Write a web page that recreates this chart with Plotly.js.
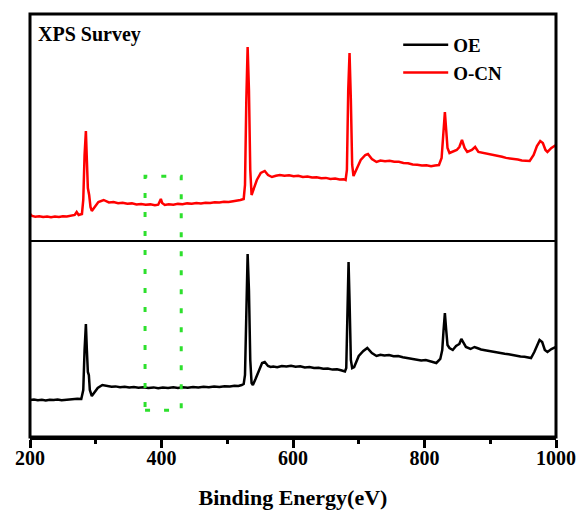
<!DOCTYPE html>
<html>
<head>
<meta charset="utf-8">
<script src="https://cdn.plot.ly/plotly-3.0.1.min.js"></script>
<style>
  html, body { margin: 0; padding: 0; background: #fff; }
  #chart { width: 584px; height: 522px; }
</style>
</head>
<body>
<div id="chart"></div>
<script>
// XPS survey spectra as [binding energy (eV), intensity (a.u.)] pairs
const oeSpectrum = [
  [200,37],[206,37.5],[212,36.8],[218,37.3],[224,36.6],[230,37.2],[236,36.9],[242,37.4],[248,36.7],[254,37.2],
  [260,37.5],[266,37.8],[272,38.2],[278,38],[281,47],[283,87],[285,113],[286.5,87],[288,65],[289.5,62],
  [291,47],[294,41],[298,45],[303,49],[310,52],[314,51.5],[318,51],[324,50.2],[330,50.6],[337,49.7],
  [344,50.3],[351,49.4],[358,50],[365,49.2],[372,49.8],[380,49],[388,49.6],[395,48.8],[402,49.4],[410,49],
  [418,49.7],[425,49.1],[432,49.8],[440,49.3],[448,50.1],[456,49.6],[464,50.3],[472,49.8],[480,50.5],[488,50],
  [496,50.7],[504,50.4],[511,51.2],[517,51],[522,52],[525,53],[527,62],[529,137],[531,183],[533,147],
  [535,77],[537,54],[539,52],[543,58],[548,67],[553,74],[557,75],[562,71],[566,70],[570,70.5],
  [576,69.8],[583,71],[590,70.4],[597,71.2],[604,70.3],[611,70.7],[618,69.6],[625,69.9],[632,68.9],[639,69.3],
  [646,68.2],[653,68.5],[660,67.4],[667,67.8],[673,66.8],[679,65.5],[681,69],[683,137],[684.5,175],[686,137],
  [688,77],[690,69],[693,70],[700,81],[707,86],[713,89],[720,84],[727,81],[733,82.3],[739,81.6],
  [746,82],[753,80.7],[760,80.9],[767,79.8],[774,78.9],[781,77.9],[788,77.6],[795,76.6],[802,77],[809,75.7],
  [814,75.3],[818,74],[824,78],[827,87],[829,107],[831,124],[833,107],[835,92],[838,89],[843,87],
  [848,91],[853,93],[856,98],[859,94],[863,90],[870,88],[876,90],[880,89],[886,87.5],[892,86.8],
  [898,86],[904,85.6],[910,84.5],[916,84.3],[922,83.2],[928,82.8],[934,81.9],[940,81.4],[946,80.6],[952,80.2],
  [958,79.4],[962,79],[967,85],[971,92],[975,97],[979,95],[983,87],[987,85],[993,88],[1000,90]
];

const ocnSpectrum = [
  [200,27],[203,25],[208,24.3],[214,24.8],[220,23.9],[226,24.5],[232,23.8],[238,24.4],[244,24],[250,24.7],
  [256,24.5],[262,25.3],[268,26],[271,29],[274,26],[279,27],[281,41],[283,86],[285,110],[286.5,81],
  [288,53],[290,46],[292,34],[294,30],[298,34],[304,39],[312,41],[316,40],[320,38.5],[327,38.9],
  [334,37.8],[341,38.3],[348,37.2],[355,37.6],[362,36.5],[369,37],[376,36.2],[383,36.6],[390,35.8],[395,36.3],
  [397,39],[399,42],[401,38],[405,36],[411,36.8],[418,36.3],[425,37.1],[432,36.8],[439,37.6],[446,37.2],
  [453,38],[460,37.5],[467,38.3],[474,38],[481,38.7],[488,38.4],[495,39.2],[502,38.9],[509,39.8],[515,40.2],
  [520,41],[525,42],[527,56],[529,141],[531,194],[533,151],[535,71],[537,46],[540,51],[545,61],
  [551,68],[557,70],[562,66],[568,64],[574,65.2],[580,66],[587,65.3],[594,65.8],[601,64.8],[608,65.2],
  [615,64.1],[622,64.5],[629,63.4],[636,63.8],[643,62.8],[650,63.1],[657,62.1],[664,62.4],[671,61.4],[677,61.8],
  [680,61],[682,71],[684,151],[686,188],[688,141],[690,76],[692,65],[696,71],[703,81],[710,86],
  [714,87],[720,82],[727,79],[733,80.4],[740,79.8],[747,80.2],[754,79.2],[761,79.3],[768,78.1],[775,77.8],
  [782,76.6],[789,76.2],[796,75.4],[803,75.7],[810,74.8],[816,75.5],[822,76],[826,83],[829,111],[831,129],
  [833,111],[835,93],[838,88],[844,90],[849,91],[853,94],[857,101],[861,93],[865,89],[872,91],
  [877,94],[882,89],[888,88.3],[894,87.2],[900,86.4],[906,85.9],[912,84.8],[918,84.3],[924,83.1],[930,82.8],
  [936,81.8],[942,81.5],[948,80.6],[954,80.4],[960,80],[966,86],[971,95],[976,100],[980,98],[984,91],
  [987,89],[993,93],[1000,96]
];

const seriesNames = ['OE', 'O-CN'];
const seriesColors = ['#000000', '#ff0000'];
const xTickValues = [200, 400, 600, 800, 1000];
const xTickLabels = ['200', '400', '600', '800', '1000'];
const markedRegion = [375, 430]; // N 1s window

const serif = 'Liberation Serif, Times New Roman, serif';
const split = 0.4634; // boundary between the two stacked panels

const col = (arr, i) => arr.map(p => p[i]);

const traces = [
  {x: col(oeSpectrum, 0), y: col(oeSpectrum, 1), name: seriesNames[0], type: 'scatter', mode: 'lines',
   line: {color: seriesColors[0], width: 2.5}, xaxis: 'x', yaxis: 'y'},
  {x: col(ocnSpectrum, 0), y: col(ocnSpectrum, 1), name: seriesNames[1], type: 'scatter', mode: 'lines',
   line: {color: seriesColors[1], width: 2.5}, xaxis: 'x', yaxis: 'y2'}
];

const layout = {
  width: 584, height: 522,
  margin: {l: 30, r: 28, t: 14, b: 85},
  paper_bgcolor: '#fff', plot_bgcolor: '#fff',
  showlegend: true,
  legend: {
    x: 0.70, y: 0.972, xanchor: 'left', yanchor: 'top',
    bgcolor: 'rgba(0,0,0,0)', borderwidth: 0,
    font: {family: serif, size: 19, color: '#000', weight: 'bold'},
    itemwidth: 45, tracegroupgap: 0
  },
  xaxis: {
    range: [200, 1000], anchor: 'y',
    tickmode: 'array', tickvals: xTickValues, ticktext: xTickLabels,
    ticks: 'outside', ticklen: 8, tickwidth: 3, tickcolor: '#000',
    ticklabelstandoff: -7,
    minor: {dtick: 100, tick0: 200, ticks: 'outside', ticklen: 4, tickwidth: 3, tickcolor: '#000', showgrid: false},
    showline: true, linecolor: '#000', linewidth: 3,
    showgrid: false, zeroline: false,
    tickfont: {family: serif, size: 20, color: '#000', weight: 'bold'},
    title: {text: 'Binding Energy(eV)', standoff: 22,
            font: {family: serif, size: 22, color: '#000', weight: 'bold'}}
  },
  yaxis: {domain: [0, split], range: [0, 196], visible: false, fixedrange: true},
  yaxis2: {domain: [split, 1], range: [0, 227], anchor: 'x', visible: false, fixedrange: true},
  shapes: [
    {type: 'rect', xref: 'paper', yref: 'paper', x0: 0, x1: 1, y0: 0, y1: 1,
     line: {color: '#000', width: 3}},
    {type: 'line', xref: 'paper', yref: 'paper', x0: 0, x1: 1, y0: split, y1: split,
     line: {color: '#000', width: 2}},
    {type: 'rect', xref: 'x', yref: 'paper', x0: markedRegion[0], x1: markedRegion[1],
     y0: 0.0635, y1: 0.6165,
     line: {color: '#2de02d', width: 3, dash: '5px,14px'}}
  ],
  annotations: [
    {text: 'XPS Survey', xref: 'paper', yref: 'paper', x: 0.011, y: 0.952,
     xanchor: 'left', yanchor: 'middle', showarrow: false,
     font: {family: serif, size: 20, color: '#000', weight: 'bold'}}
  ]
};

Plotly.newPlot('chart', traces, layout, {displayModeBar: false, staticPlot: true});
</script>
</body>
</html>
